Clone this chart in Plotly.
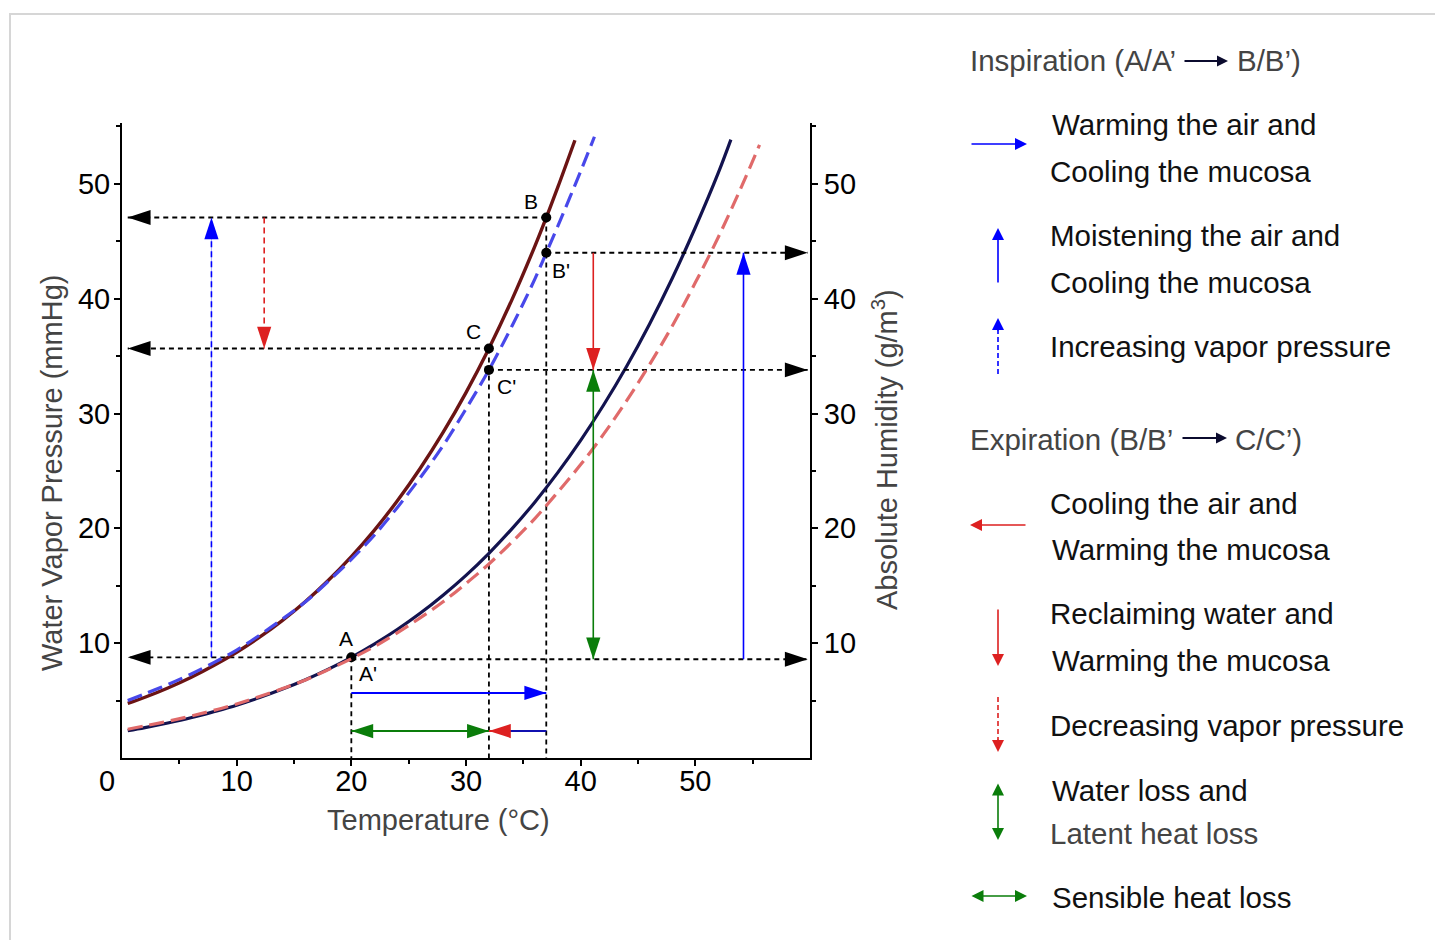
import plotly.graph_objects as go

# ---------------- data ----------------
# Saturated water vapour pressure (mmHg) - solid maroon curve
t_vp_sat = [0.5, 2, 4, 6, 8, 10, 12, 14, 16, 18, 20, 22, 24, 26, 28, 30, 32, 34, 36, 37, 38, 39.5]
vp_sat = [4.75, 5.29, 6.10, 7.01, 8.05, 9.21, 10.52, 11.99, 13.63, 15.48, 17.54, 19.83, 22.38,
          25.21, 28.35, 31.82, 35.66, 39.90, 44.56, 47.07, 49.69, 53.8]
# Saturated absolute humidity (g/m3) - dashed blue curve
t_ah_sat = [0.5, 2, 4, 6, 8, 10, 12, 14, 16, 18, 20, 22, 24, 26, 28, 30, 32, 34, 36, 37, 38, 40,
            41.2]
ah_sat = [5.0, 5.6, 6.4, 7.3, 8.3, 9.4, 10.7, 12.1, 13.6, 15.4, 17.3, 19.4, 21.8, 24.4, 27.2,
          30.4, 33.8, 37.6, 41.7, 44.0, 46.3, 51.1, 54.1]
# 50 % vapour pressure (mmHg) - solid navy curve
t_vp_half = [0.5, 2, 4, 6, 8, 10, 12, 14, 16, 18, 20, 22, 24, 26, 28, 30, 32, 34, 36, 38, 40, 42,
             44, 46, 48, 50, 52, 53.1]
vp_half = [2.38, 2.65, 3.05, 3.5, 4.03, 4.6, 5.26, 6.0, 6.82, 7.74, 8.77, 9.92, 11.19, 12.6,
           14.18, 15.91, 17.83, 19.95, 22.28, 24.85, 27.66, 30.74, 34.1, 37.78, 41.8, 46.2,
           50.95, 53.85]
# 50 % absolute humidity (g/m3) - dashed light red curve
t_ah_half = [0.5, 2, 4, 6, 8, 10, 12, 14, 16, 18, 20, 22, 24, 26, 28, 30, 32, 34, 36, 38, 40, 42,
             44, 46, 48, 50, 52, 54, 55.6]
ah_half = [2.5, 2.8, 3.2, 3.65, 4.15, 4.7, 5.35, 6.05, 6.8, 7.7, 8.65, 9.7, 10.9, 12.2, 13.6,
           15.2, 16.9, 18.8, 20.85, 23.15, 25.55, 28.2, 31.1, 34.25, 37.65, 41.4, 45.35, 49.7, 53.4]

# State points
state_names = ["A", "B", "C"]
state_T = [20, 37, 32]            # temperature (deg C)
state_P = [8.77, 47.07, 35.66]    # vapour pressure (mmHg): A, B, C
state_AH = [8.6, 44.0, 33.8]      # absolute humidity (g/m3): A', B', C'

# Arrow positions (values on the axes)
x_insp_dashed = 7.8     # dashed blue arrow (increasing vapour pressure)
x_exp_dashed = 12.4     # dashed red arrow (decreasing vapour pressure)
x_exp = 41.1            # red / green vertical arrows
x_insp = 54.2           # blue vertical arrow
y_warm = 5.67           # blue horizontal arrow
y_cool = 2.35           # green / red horizontal arrows
x_red_tail = 33.6
x_left_tip = 0.5
x_right_tip = 59.8

x_ticks = [10, 20, 30, 40, 50]
y_ticks = [10, 20, 30, 40, 50]
minor_ticks = [5, 15, 25, 35, 45, 55]

# ---------------- layout helpers ----------------
W, H = 1443, 940
OFF = 8                              # page offset of the figure (body margin)
L, R, T, B = 122, 810, 123, 758      # plot area in page pixels
FONT = "Liberation Sans, Arial, Helvetica, sans-serif"
BLUE, RED, GREEN = "#0000ff", "#dd2020", "#0a7d0a"


def px(x):
    return (x - L) / (R - L)


def py(y):
    return (B - y) / (B - T)


fig = go.Figure()

iA, iB, iC = 0, 1, 2
DASH_BLACK = "5px,4px"


def _angle(x0, y0, x1, y1):
    if x1 > x0:
        return 90
    if x1 < x0:
        return -90
    return 0 if y1 > y0 else 180


def arrow(xs, ys, color, width=1.6, dash="solid", both=False, size=23, yaxis="y", tip=True):
    """Line from xs[0],ys[0] to xs[1],ys[1] with an arrow marker at the end (and start)."""
    a_end = _angle(xs[0], ys[0], xs[1], ys[1])
    a_start = _angle(xs[1], ys[1], xs[0], ys[0])
    sizes = [size if both else 0, size if tip else 0]
    fig.add_trace(go.Scatter(
        x=xs, y=ys, mode="lines+markers", yaxis=yaxis,
        line=dict(color=color, width=width, dash=dash),
        marker=dict(symbol="arrow", size=sizes, angle=[a_start, a_end], color=color,
                    opacity=1, line=dict(width=0)),
        showlegend=False, hoverinfo="skip", cliponaxis=False))


def guide(xs, ys, yaxis="y"):
    fig.add_trace(go.Scatter(x=xs, y=ys, mode="lines", yaxis=yaxis,
                             line=dict(color="black", width=1.8, dash=DASH_BLACK),
                             showlegend=False, hoverinfo="skip"))


# vertical guides to the temperature axis
for i in (iA, iC, iB):
    guide([state_T[i], state_T[i]], [state_P[i], 0])
# horizontal guides to the left axis (vapour pressure) with heads
for i in (iB, iC, iA):
    arrow([state_T[i], x_left_tip], [state_P[i], state_P[i]], "black", 1.8, DASH_BLACK, size=24)
# horizontal guides to the right axis (absolute humidity) with heads
for i in (iB, iC, iA):
    arrow([state_T[i], x_right_tip], [state_AH[i], state_AH[i]], "black", 1.8, DASH_BLACK,
          size=24, yaxis="y2")

# dashed coloured arrows
fig.add_trace(go.Scatter(x=[x_insp_dashed, x_insp_dashed], y=[state_P[iA], state_P[iB] - 1.5],
                         mode="lines", line=dict(color="rgba(0,0,255,0.3)", width=1),
                         showlegend=False, hoverinfo="skip"))
arrow([x_insp_dashed, x_insp_dashed], [state_P[iA], state_P[iB]], BLUE, 1.6, "6px,4px")
arrow([x_exp_dashed, x_exp_dashed], [state_P[iB], state_P[iC]], RED, 1.6, "6px,4px")

# curves
fig.add_trace(go.Scatter(x=t_ah_half, y=ah_half, mode="lines", yaxis="y2",
                         line=dict(color="#e06a6a", width=3.2, dash="15px,7px", shape="spline"),
                         showlegend=False, hoverinfo="skip"))
fig.add_trace(go.Scatter(x=t_vp_half, y=vp_half, mode="lines",
                         line=dict(color="#13134f", width=3.2, shape="spline"),
                         showlegend=False, hoverinfo="skip"))
fig.add_trace(go.Scatter(x=t_vp_sat, y=vp_sat, mode="lines",
                         line=dict(color="#6b1414", width=3.4, shape="spline"),
                         showlegend=False, hoverinfo="skip"))
fig.add_trace(go.Scatter(x=t_ah_sat, y=ah_sat, mode="lines", yaxis="y2",
                         line=dict(color="#4848ea", width=3.2, dash="15px,7px", shape="spline"),
                         showlegend=False, hoverinfo="skip"))

# solid coloured arrows
arrow([x_exp, x_exp], [state_AH[iB], state_AH[iC]], RED, yaxis="y2")
arrow([x_exp, x_exp], [state_AH[iC], state_AH[iA]], GREEN, both=True, yaxis="y2")
arrow([x_insp, x_insp], [state_AH[iA], state_AH[iB]], BLUE, yaxis="y2")
arrow([state_T[iA], state_T[iB]], [y_warm, y_warm], BLUE, width=2)
arrow([state_T[iA], state_T[iC]], [y_cool, y_cool], GREEN, width=2, both=True)
fig.add_trace(go.Scatter(x=[x_red_tail, state_T[iB]], y=[y_cool, y_cool], mode="lines",
                         line=dict(color="#1010b0", width=2), showlegend=False, hoverinfo="skip"))
arrow([x_red_tail, state_T[iC]], [y_cool, y_cool], RED, width=2)

# state points
fig.add_trace(go.Scatter(x=state_T, y=state_P, mode="markers",
                         marker=dict(color="black", size=10), showlegend=False, hoverinfo="skip"))
fig.add_trace(go.Scatter(x=state_T[1:], y=state_AH[1:], mode="markers", yaxis="y2",
                         marker=dict(color="black", size=10), showlegend=False, hoverinfo="skip"))

# point labels
lab_font = dict(family=FONT, size=21, color="black")
for i, (xs, ys) in zip((iA, iB, iC), ((-5, 19), (-15, 16), (-15, 17))):
    fig.add_annotation(x=state_T[i], y=state_P[i], text=state_names[i], showarrow=False,
                       xshift=xs, yshift=ys, font=lab_font)
for i, (xs, ys) in zip((iA, iB, iC), ((17, -14), (15, -18), (18, -17))):
    fig.add_annotation(x=state_T[i], y=state_AH[i], yref="y2", text=state_names[i] + "'",
                       showarrow=False, xshift=xs, yshift=ys, font=lab_font)

# axis titles and the "0" label
tfont = dict(family=FONT, size=29, color="#444444")


def ctext(x, y, text, font, angle=0):
    fig.add_annotation(x=px(x), y=py(y), xref="paper", yref="paper", text=text, showarrow=False,
                       xanchor="center", yanchor="middle", textangle=angle, font=font)


ctext(438, 820, "Temperature (°C)", tfont)
ctext(52, 473, "Water Vapor Pressure (mmHg)", tfont, -90)
ctext(885, 450, "Absolute Humidity (g/m<sup>3</sup>)", tfont, -90)
ctext(107, 781, "0", dict(family=FONT, size=29, color="black"))

# ---------------- right-hand key ----------------
kfont = dict(family=FONT, size=29.5, color="#111111")
hfont = dict(family=FONT, size=29.5, color="#444444")


def ktext(x, y, text, font=kfont):
    fig.add_annotation(x=px(x), y=py(y), xref="paper", yref="paper", text=text, showarrow=False,
                       xanchor="left", yanchor="middle", font=font)


def karrow(x_tip, y_tip, x_tail, y_tail, color, both=False, width=1.6, size=1.5):
    fig.add_annotation(x=px(x_tip), y=py(y_tip), ax=x_tail - x_tip, ay=y_tail - y_tip,
                       xref="paper", yref="paper", text="", showarrow=True, arrowhead=2,
                       arrowsize=size, arrowwidth=width, arrowcolor=color, startarrowhead=2,
                       startarrowsize=size, arrowside="end+start" if both else "end",
                       standoff=0, startstandoff=0)


def kdash(x0, y0, x1, y1, color):
    fig.add_shape(type="line", xref="paper", yref="paper", x0=px(x0), y0=py(y0), x1=px(x1),
                  y1=py(y1), line=dict(color=color, width=1.6, dash="5px,3px"))


ktext(968, 60, "Inspiration (A/A’", hfont)
karrow(1228, 61, 1183, 61, "#0b0b2e", width=2, size=1.1)
ktext(1235, 60, "B/B’)", hfont)

karrow(1027, 144, 970, 144, BLUE)
ktext(1050, 124, "Warming the air and")
ktext(1048, 171, "Cooling the mucosa")

karrow(998, 228, 998, 284, BLUE)
ktext(1048, 235, "Moistening the air and")
ktext(1048, 282, "Cooling the mucosa")

kdash(998, 374, 998, 330, BLUE)
karrow(998, 318, 998, 332, BLUE)
ktext(1048, 346, "Increasing vapor pressure")

ktext(968, 439, "Expiration (B/B’", hfont)
karrow(1227, 438, 1181, 438, "#0b0b2e", width=2, size=1.1)
ktext(1233, 439, "C/C’)", hfont)

karrow(970, 525, 1027, 525, RED)
ktext(1048, 503, "Cooling the air and")
ktext(1050, 549, "Warming the mucosa")

karrow(998, 666, 998, 608, RED)
ktext(1048, 613, "Reclaiming water and")
ktext(1050, 660, "Warming the mucosa")

kdash(998, 697, 998, 740, RED)
karrow(998, 752, 998, 738, RED)
ktext(1048, 725, "Decreasing vapor pressure")

karrow(998, 840, 998, 782, GREEN, both=True)
ktext(1050, 790, "Water loss and")
ktext(1048, 833, "Latent heat loss", hfont)

karrow(1027, 896, 970, 896, GREEN, both=True)
ktext(1050, 897, "Sensible heat loss")

# light frame
fig.add_shape(type="rect", xref="paper", yref="paper", x0=px(10), y0=py(960), x1=px(1470),
              y1=py(14), line=dict(color="#d6d6d6", width=2), layer="below")

axis_common = dict(showline=True, linecolor="black", linewidth=2, ticks="outside", ticklen=6,
                   tickwidth=1.5, tickcolor="black", showgrid=False, zeroline=False,
                   tickfont=dict(family=FONT, size=29, color="black"))
minor = dict(tickvals=minor_ticks, ticklen=4, ticks="outside", tickcolor="black", tickwidth=1.5)

fig.update_layout(
    width=W, height=H,
    margin=dict(l=L - OFF, r=W - (R - OFF), t=T - OFF, b=H - (B - OFF)),
    paper_bgcolor="white", plot_bgcolor="white",
    font=dict(family=FONT),
    xaxis=dict(range=[0, 60], tickvals=x_ticks, minor=minor, ticklabelstandoff=-10,
               **axis_common),
    yaxis=dict(range=[0, 55.3], tickvals=y_ticks, minor=minor, ticklabelstandoff=-2,
               **axis_common),
    yaxis2=dict(range=[0, 55.3], tickvals=y_ticks, overlaying="y", side="right", anchor="x",
                minor=minor, **axis_common),
)

fig.write_html("out.html")
